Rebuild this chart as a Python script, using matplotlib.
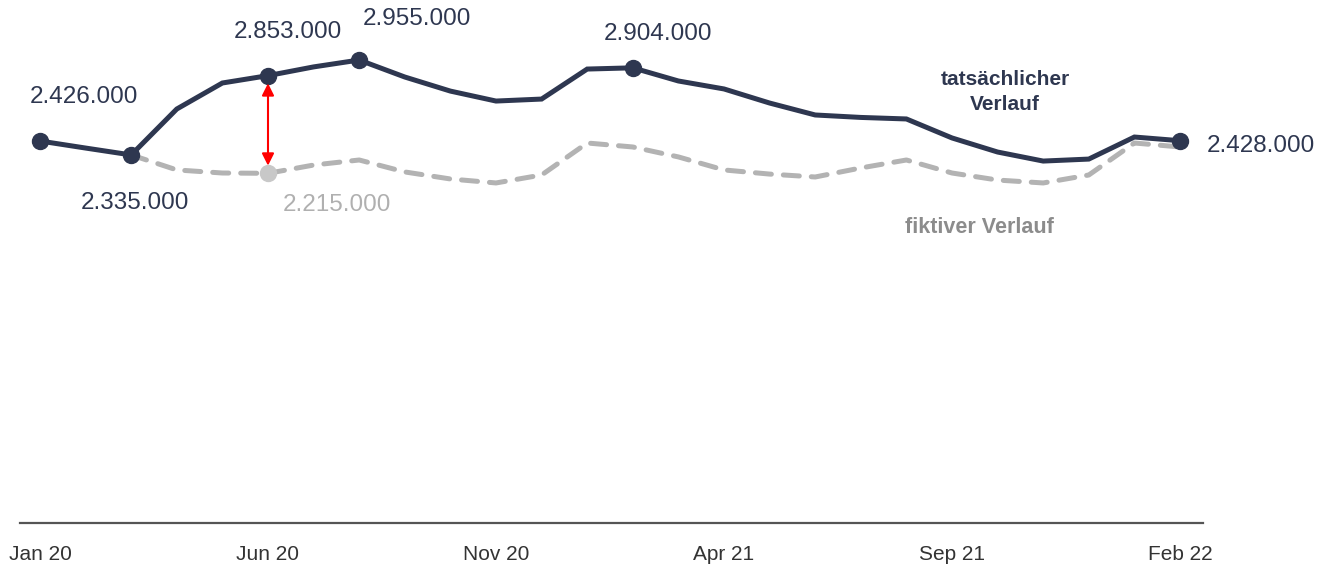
import matplotlib
matplotlib.use('Agg')
import matplotlib.pyplot as plt
import numpy as np

# monthly values Jan 20 .. Feb 22
months = ['Jan 20', 'Feb 20', 'Mär 20', 'Apr 20', 'Mai 20', 'Jun 20', 'Jul 20', 'Aug 20',
          'Sep 20', 'Okt 20', 'Nov 20', 'Dez 20', 'Jan 21', 'Feb 21', 'Mär 21', 'Apr 21',
          'Mai 21', 'Jun 21', 'Jul 21', 'Aug 21', 'Sep 21', 'Okt 21', 'Nov 21', 'Dez 21',
          'Jan 22', 'Feb 22']
actual = [2426000, 2380000, 2335000, 2635000, 2805000, 2853000, 2910000, 2955000,
          2844000, 2752000, 2687000, 2700000, 2896000, 2904000, 2818000, 2766000,
          2674000, 2596000, 2580000, 2570000, 2446000, 2354000, 2295000, 2308000,
          2452000, 2428000]
# fictive course starts at Mar 20
fictive = [None, None, 2335000, 2237000, 2217000, 2215000, 2269000, 2302000,
           2224000, 2178000, 2152000, 2204000, 2413000, 2387000, 2322000, 2237000,
           2210000, 2191000, 2250000, 2302000, 2217000, 2171000, 2152000, 2204000,
           2413000, 2387000]
tick_months = ['Jan 20', 'Jun 20', 'Nov 20', 'Apr 21', 'Sep 21', 'Feb 22']
marked = [0, 2, 5, 7, 13, 25]

dark = '#2e3750'
grey = '#b3b3b3'

plt.rcParams['font.family'] = ['Liberation Sans', 'DejaVu Sans']

fig = plt.figure(figsize=(13.25, 5.65), dpi=100)
ax = fig.add_axes([20/1325, 42/565, 1183/1325, 523/565])

x = np.arange(len(months))
fx = [i for i, v in enumerate(fictive) if v is not None]
fv = [v for v in fictive if v is not None]

ax.plot(fx, fv, color=grey, lw=3.6, ls=(0, (3.2, 2.4)), dash_capstyle='round', zorder=2)
ax.plot(x, actual, color=dark, lw=3.6, zorder=3, solid_joinstyle='miter')
ax.plot(x[marked], np.array(actual)[marked], 'o', color=dark, ms=11.5, zorder=4)
ax.plot([5], [fictive[5]], 'o', color='#c8c8c8', ms=11.5, zorder=4)

# gap arrow
ax.annotate('', xy=(5, fictive[5] + 50000), xytext=(5, actual[5] - 50000),
            arrowprops=dict(arrowstyle='<|-|>', color='red', lw=1.5,
                            mutation_scale=18, shrinkA=0, shrinkB=0), zorder=5)

def fmt(v):
    return f'{v:,}'.replace(',', '.')

fs = 17.5
lab = dict(fontsize=fs, color=dark, ha='center', va='center')
ax.annotate(fmt(actual[0]), (0, actual[0]), xytext=(44, 44), textcoords='offset pixels', **lab)
ax.annotate(fmt(actual[2]), (2, actual[2]), xytext=(4, -48), textcoords='offset pixels', **lab)
ax.annotate(fmt(actual[5]), (5, actual[5]), xytext=(20, 44), textcoords='offset pixels', **lab)
ax.annotate(fmt(actual[7]), (7, actual[7]), xytext=(58, 41), textcoords='offset pixels', **lab)
ax.annotate(fmt(actual[13]), (13, actual[13]), xytext=(25, 34), textcoords='offset pixels', **lab)
ax.annotate(fmt(actual[25]), (25, actual[25]), xytext=(27, -5), textcoords='offset pixels',
            fontsize=fs, color=dark, ha='left', va='center')
ax.annotate(fmt(fictive[5]), (5, fictive[5]), xytext=(69, -32), textcoords='offset pixels',
            fontsize=fs, color='#b0b0b0', ha='center', va='center')

ax.text(21.16, 2745000, 'tatsächlicher\nVerlauf', fontsize=15, fontweight='bold', color=dark,
        ha='center', va='center', linespacing=1.4)
ax.text(20.6, 1864000, 'fiktiver Verlauf', fontsize=15.5, fontweight='bold', color='#8c8c8c',
        ha='center', va='center')

ax.set_xlim(-20/45.6, 25 + 23/45.6)
ax.set_ylim(-69000, 3347000)
ax.set_xticks([months.index(m) for m in tick_months])
ax.set_xticklabels(tick_months, fontsize=15, color='#333333')
ax.set_yticks([])
ax.tick_params(axis='x', length=0, pad=16)
for s in ['top', 'right', 'left']:
    ax.spines[s].set_visible(False)
ax.spines['bottom'].set_color('#555555')
ax.spines['bottom'].set_linewidth(1.6)

fig.savefig('out.png', dpi=100)
